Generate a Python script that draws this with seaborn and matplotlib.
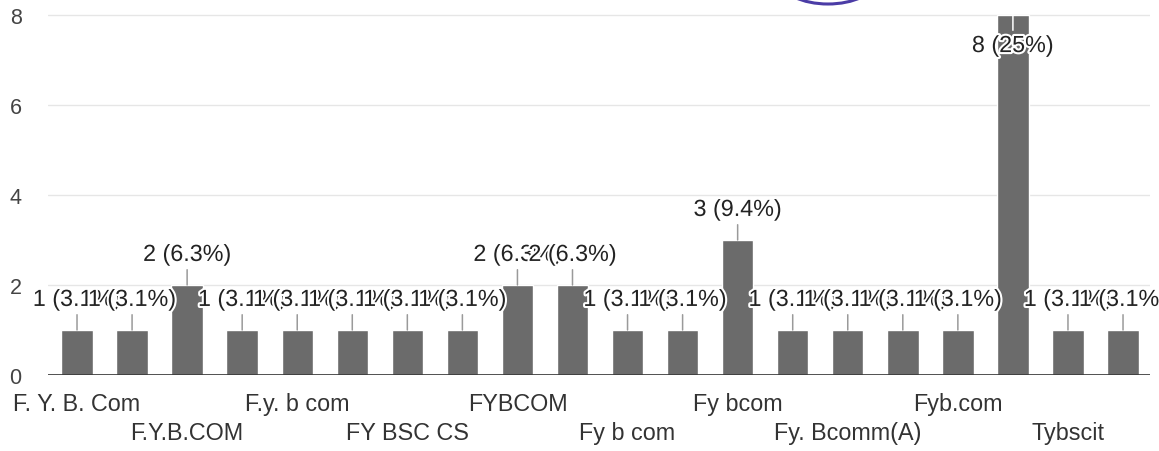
import math
import matplotlib
matplotlib.use("Agg")
import matplotlib.pyplot as plt
import matplotlib.patheffects as pe
from matplotlib.patches import Ellipse
import numpy as np
import pandas as pd
import seaborn as sns

# Responses per class name (32 responses in total)
counts = [1, 1, 2, 1, 1, 1, 1, 1, 2, 2, 1, 1, 3, 1, 1, 1, 1, 8, 1, 1]
total = 32
# Only every other class name fits under the axis
tick_positions = [0, 2, 4, 6, 8, 10, 12, 14, 16, 18]
tick_labels = ["F. Y. B. Com", "F.Y.B.COM", "F.y. b com", "FY BSC CS", "FYBCOM",
               "Fy b com", "Fy bcom", "Fy. Bcomm(A)", "Fyb.com", "Tybscit"]
y_ticks = [0, 2, 4, 6, 8]

df = pd.DataFrame({"pos": np.arange(len(counts)), "count": counts})


def pct_text(v):
    # percentage rounded half-up to one decimal
    p = math.floor(1000 * v / total + 0.5) / 10
    return f"{v} ({p:g}%)"


sns.set_theme(style="white")
plt.rcParams["font.family"] = ["Liberation Sans", "DejaVu Sans"]

fig = plt.figure(figsize=(11.59, 4.52), dpi=100)
fig.patch.set_facecolor("white")
ax = fig.add_axes([48 / 1159, 1 - 376 / 452, (1150 - 48) / 1159, 364.5 / 452])

sns.barplot(data=df, x="pos", y="count", color="#6b6b6b", saturation=1,
            width=0.57, ax=ax, zorder=2)

ax.set_xlim(-0.527, 19.49)
ax.set_ylim(0, 8.1)

# horizontal grid and baseline
for yv in y_ticks[1:]:
    ax.axhline(yv, color="#e6e6e6", lw=1.0, zorder=0)
ax.axhline(0, color="#333333", lw=1.2, zorder=3)
for s in ["left", "right", "top", "bottom"]:
    ax.spines[s].set_visible(False)

ax.set_yticks(y_ticks)
ax.set_yticklabels([str(v) for v in y_ticks], fontsize=15.5, color="#444444")
ax.tick_params(axis="y", length=0, pad=19)

ax.set_xticks(tick_positions)
ax.set_xticklabels(tick_labels, fontsize=16.8, color="#333333")
ax.tick_params(axis="x", length=0)
for k, tick in enumerate(ax.xaxis.get_major_ticks()):
    tick.set_pad(12 if k % 2 == 0 else 33)
ax.set_xlabel("")
ax.set_ylabel("")

# value labels with leader lines
halo = [pe.withStroke(linewidth=3, foreground="white")]
ymax = ax.get_ylim()[1]
for i, v in enumerate(counts):
    text = pct_text(v)
    inside = v + 0.7 > ymax
    line_dy, text_dy = (-11, -22) if inside else (11, 22)
    ax.annotate("", xy=(i, v), xytext=(0, line_dy), textcoords="offset points",
                arrowprops=dict(arrowstyle="-", color="white" if inside else "#9a9a9a",
                                lw=1.1, shrinkA=0, shrinkB=0), zorder=4)
    ax.annotate(text, xy=(i, v), xytext=(0, text_dy), textcoords="offset points",
                ha="center", va="center", fontsize=16.8, color="#222222",
                path_effects=halo, zorder=5)

# pen mark along the top edge
fig.patches.append(Ellipse((828 / 1159, 1 + 18 / 452), 94 / 1159, 46 / 452,
                           transform=fig.transFigure, fill=False,
                           edgecolor="#4b3ca6", lw=2.2))

fig.savefig("out.png", dpi=100, facecolor="white")
